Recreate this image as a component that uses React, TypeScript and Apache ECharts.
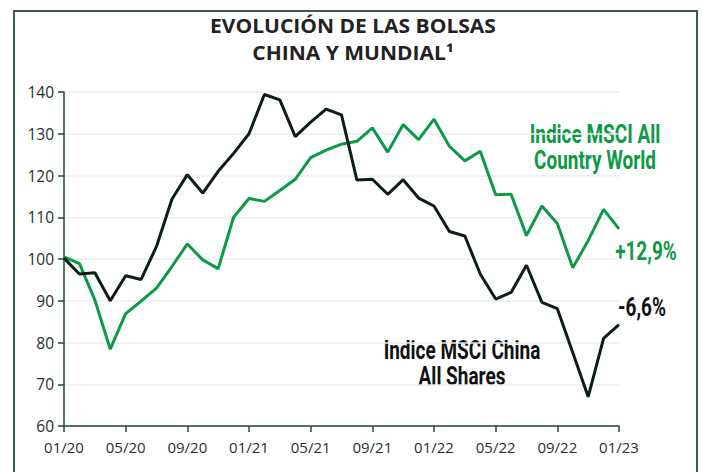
import React, { useEffect, useRef } from "react";
import * as echarts from "echarts";

const months: string[] = [
  "01/20", "02/20", "03/20", "04/20", "05/20", "06/20", "07/20", "08/20", "09/20", "10/20", "11/20", "12/20",
  "01/21", "02/21", "03/21", "04/21", "05/21", "06/21", "07/21", "08/21", "09/21", "10/21", "11/21", "12/21",
  "01/22", "02/22", "03/22", "04/22", "05/22", "06/22", "07/22", "08/22", "09/22", "10/22", "11/22", "12/22",
  "01/23",
];

const msciWorld: number[] = [
  100.5, 98.9, 90.2, 78.4, 86.9, 89.9, 93.0, 98.2, 103.6, 99.8, 97.7, 110.0,
  114.5, 113.8, 116.4, 119.1, 124.3, 126.1, 127.5, 128.2, 131.4, 125.6, 132.2, 128.6,
  133.5, 127.0, 123.5, 125.8, 115.4, 115.5, 105.6, 112.7, 108.5, 97.9, 104.4, 111.9,
  107.2,
];

const msciChina: number[] = [
  100.2, 96.4, 96.7, 90.0, 96.0, 95.1, 103.0, 114.3, 120.2, 115.8, 121.0, 125.3,
  130.0, 139.4, 138.1, 129.3, 132.8, 135.9, 134.5, 118.9, 119.1, 115.5, 119.0, 114.6,
  112.7, 106.6, 105.5, 96.4, 90.4, 92.0, 98.5, 89.6, 88.1, 77.6, 67.0, 81.0,
  84.3,
];

const titleLines: string[] = ["EVOLUCIÓN DE LAS BOLSAS", "CHINA Y MUNDIAL¹"];
const worldLabel: string[] = ["Indice MSCI All", "Country World"];
const chinaLabel: string[] = ["Indice MSCI China", "All Shares"];
const worldChange = "+12,9%";
const chinaChange = "-6,6%";

const GREEN = "#0b9a48";
const DARK = "#0e1e17";
const AXIS = "#1f4a3b";
const LABEL_FONT = "bold 25px Roboto, 'Noto Sans', sans-serif";
const TITLE_FONT = "bold 20px 'Open Sans', 'Noto Sans', sans-serif";
const SQUEEZE = 0.76;

function label(text: string, x: number, y: number, fill: string) {
  return {
    type: "text",
    x,
    y,
    scaleX: SQUEEZE,
    style: { text, fill, font: LABEL_FONT, lineHeight: 24, align: "center", verticalAlign: "middle" },
    silent: true,
  };
}

function titleText(text: string, y: number) {
  return {
    type: "text",
    x: 353,
    y,
    scaleX: 1.05,
    style: { text, fill: "#222222", font: TITLE_FONT, lineHeight: 21, align: "center", verticalAlign: "middle" },
    silent: true,
  };
}

export default function App() {
  const ref = useRef<HTMLDivElement>(null);

  useEffect(() => {
    document.body.style.margin = "0";
    if (!ref.current) return;
    const chart = echarts.init(ref.current, undefined, { renderer: "svg" });
    chart.setOption({
      animation: false,
      backgroundColor: "#ffffff",
      grid: { left: 64, right: 83, top: 92, bottom: 46 },
      xAxis: {
        type: "category",
        data: months,
        boundaryGap: false,
        axisLine: { lineStyle: { color: AXIS, width: 1.5 } },
        axisTick: { show: true, interval: 3, length: 6, lineStyle: { color: AXIS, width: 1.5 } },
        axisLabel: {
          interval: 3,
          color: "#27302c",
          fontSize: 15,
          fontFamily: "'Open Sans', 'Noto Sans', sans-serif",
          margin: 13,
        },
        splitLine: { show: false },
      },
      yAxis: {
        type: "value",
        min: 60,
        max: 140,
        interval: 10,
        axisLine: { show: true, lineStyle: { color: AXIS, width: 1.5 } },
        axisTick: { show: true, length: 6, lineStyle: { color: AXIS, width: 1.5 } },
        axisLabel: {
          color: "#27302c",
          fontSize: 15.5,
          fontFamily: "'Open Sans', 'Noto Sans', sans-serif",
          margin: 10,
        },
        splitLine: { show: true, lineStyle: { color: "#ececec", width: 1.5 } },
      },
      series: [
        {
          name: "Indice MSCI All Country World",
          type: "line",
          data: msciWorld,
          showSymbol: false,
          lineStyle: { color: GREEN, width: 3 },
          itemStyle: { color: GREEN },
          z: 2,
        },
        {
          name: "Indice MSCI China All Shares",
          type: "line",
          data: msciChina,
          showSymbol: false,
          lineStyle: { color: DARK, width: 3 },
          itemStyle: { color: DARK },
          z: 3,
        },
      ],
      graphic: [
        {
          type: "rect",
          shape: { x: 14, y: 11, width: 683, height: 480 },
          style: { fill: "none", stroke: "#3d5c50", lineWidth: 2 },
          silent: true,
        },
        titleText(titleLines[0], 25),
        titleText(titleLines[1], 52.5),
        label(worldLabel[0], 595, 134, GREEN),
        label(worldLabel[1], 595, 160, GREEN),
        label(worldChange, 646, 251, GREEN),
        label(chinaChange, 642, 307, "#111111"),
        label(chinaLabel[0], 462, 350, "#111111"),
        label(chinaLabel[1], 462, 376, "#111111"),
      ],
    });
    return () => chart.dispose();
  }, []);

  return <div ref={ref} style={{ width: 702, height: 472 }} />;
}
